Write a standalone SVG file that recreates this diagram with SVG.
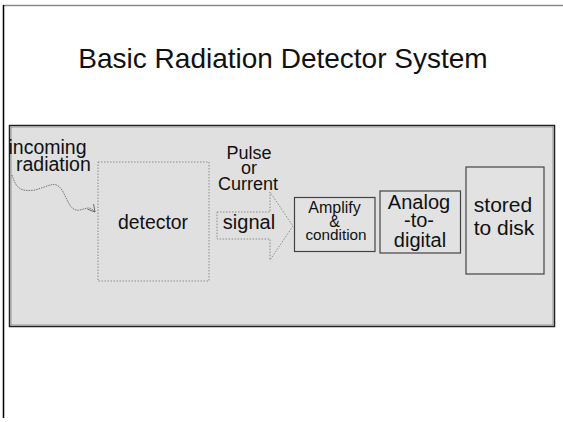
<svg xmlns="http://www.w3.org/2000/svg" width="563" height="422" viewBox="0 0 563 422">
<defs>
<style>
text{font-family:"Liberation Sans",Arial,sans-serif;fill:#111;text-anchor:middle}
.box{fill:#e2e2e2;stroke:#444;stroke-width:1.2}
.dot{fill:none;stroke:#777;stroke-width:0.8;stroke-dasharray:1.5 1.5}
</style>
<marker id="open" markerWidth="10" markerHeight="10" refX="8" refY="5" orient="auto" markerUnits="userSpaceOnUse">
<path d="M1,1 L8,5 L1,9" fill="none" stroke="#555" stroke-width="0.8"/>
</marker>
</defs>
<rect width="563" height="422" fill="#fff"/>
<line x1="3" y1="5.5" x2="563" y2="5.5" stroke="#888" stroke-width="1.5"/>
<line x1="3.5" y1="5" x2="3.5" y2="418" stroke="#000" stroke-width="1.5"/>
<g id="title"><text x="283" y="68" font-size="28">Basic Radiation Detector System</text></g>
<g id="panel">
<rect x="9.5" y="125.5" width="545" height="201" fill="#e0e0e0" stroke="#222" stroke-width="1.5"/>
<rect x="11" y="127" width="542" height="198" fill="none" stroke="#999" stroke-width="1"/>
</g>
<g id="incoming">
<text x="8.5" y="153.5" font-size="19.5" style="text-anchor:start">incoming</text>
<text x="16" y="171" font-size="19.5" style="text-anchor:start">radiation</text>
</g>
<g id="detector">
<rect class="dot" x="98" y="162" width="111" height="119" fill="none"/>
<text x="153" y="229" font-size="19.4">detector</text>
</g>
<g id="pulse">
<text x="249" y="159" font-size="18">Pulse</text>
<text x="249" y="174" font-size="18">or</text>
<text x="248" y="190" font-size="18">Current</text>
</g>
<g id="signal">
<path class="dot" d="M217,212 L270,212 L270,192 L293,226 L270,260 L270,239 L217,239 Z"/>
<text x="249" y="228.5" font-size="20">signal</text>
</g>
<g id="amplify">
<rect class="box" x="294.5" y="197.5" width="80.5" height="54"/>
<text x="334.5" y="213" font-size="16">Amplify</text>
<text x="334.5" y="226.5" font-size="16">&amp;</text>
<text x="336" y="240" font-size="15.3">condition</text>
</g>
<g id="adc">
<rect class="box" x="380" y="191" width="80.5" height="62"/>
<text x="419" y="209" font-size="20">Analog</text>
<text x="419" y="227" font-size="20">-to-</text>
<text x="420" y="247" font-size="20">digital</text>
</g>
<g id="disk">
<rect class="box" x="466" y="167" width="78" height="107"/>
<text x="503" y="211.5" font-size="21">stored</text>
<text x="504" y="235" font-size="21">to disk</text>
</g>
<g id="connectors">
<path d="M12,175 C16,188 20,192 35,190 C50,186 55,180 62,190 C68,200 70,212 80,210 C88,208 90,206 95,212" fill="none" stroke="#555" stroke-width="0.8" stroke-dasharray="1.5 1" marker-end="url(#open)"/>
</g>
</svg>
